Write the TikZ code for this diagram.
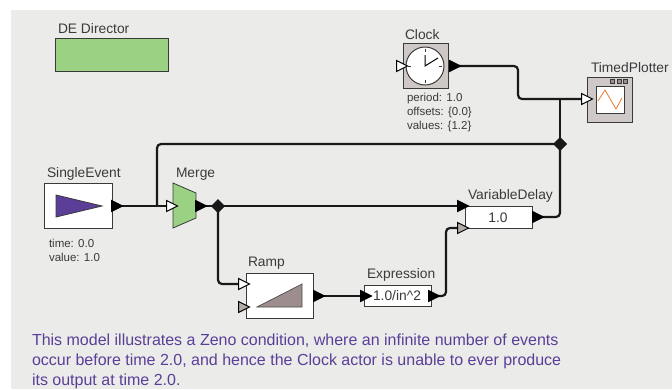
\documentclass[tikz,border=0pt]{standalone}
\usepackage{fontspec}
\setmainfont{Liberation Sans}
\usetikzlibrary{shapes.geometric,backgrounds}
\definecolor{canvas}{HTML}{EBECEA}
\definecolor{green1}{HTML}{9BD182}
\definecolor{purple1}{HTML}{5B3E98}
\definecolor{taupe}{HTML}{CEC8C6}
\definecolor{rampc}{HTML}{9D8D8D}
\definecolor{portgray}{HTML}{B5ABA9}
\definecolor{ink}{HTML}{3A3A3A}
\definecolor{orange1}{HTML}{E87A30}
\tikzset{
  x=1pt,y=-1pt,
  every node/.style={inner sep=0pt,outer sep=0pt},
  lab/.style={anchor=base west,text=ink,font=\fontsize{13.8}{16}\selectfont},
  param/.style={anchor=base west,text=ink,font=\fontsize{11.5}{13}\selectfont},
  note/.style={anchor=base west,text=purple1,font=\fontsize{16}{18}\selectfont},
  actor/.style={draw=ink,line width=0.9pt,fill=white,minimum width=#1},
  port/.style={isosceles triangle,isosceles triangle stretches=true,minimum height=11pt,minimum width=11pt,draw=black,line width=1pt,fill=#1},
  wire/.style={draw=black!90,line width=2.2pt,rounded corners=4pt},
  junction/.style={diamond,fill=black!90,minimum width=14pt,minimum height=14pt},
}
\begin{document}
\begin{tikzpicture}
\useasboundingbox (0,0) rectangle (672,389);
% actors
\node[actor=112.5pt,minimum height=33.5pt,fill=green1,anchor=north west] (director) at (55.5,38) {};
\node[lab] (directorlab) at (58,33) {DE Director};

\node[actor=45pt,minimum height=45pt,fill=taupe,anchor=north west] (clock) at (403,43) {};
\node[lab] (clocklab) at (405,39) {Clock};
\node[circle,draw=ink,line width=1pt,fill=white,minimum size=38pt] (face) at (425,66) {};
\draw[ink,line width=0.9pt] (face.north) ++(0,2) -- ++(0,3) (face.south) ++(0,-2) -- ++(0,-3) (face.west) ++(2,0) -- ++(3,0) (face.east) ++(-2,0) -- ++(-3,0);
\draw[black,line width=1pt] (425,55) -- (face.center) -- (438,58);
\node[param] (p1) at (407,101) {period: 1.0};
\node[param] (p2) at (407,115) {offsets: \{0.0\}};
\node[param] (p3) at (407,129) {values: \{1.2\}};

\node[actor=45pt,minimum height=45pt,fill=taupe,anchor=north west] (plotter) at (587,77) {};
\node[lab] (plotterlab) at (591,72) {TimedPlotter};
\node[draw=ink,line width=1pt,fill=white,minimum width=28pt,minimum height=27pt,anchor=north west] (win) at (596,86) {};
\draw[orange1,line width=0.8pt] (598,101) -- (605,90) -- (616,109) -- (622,98);
\foreach \i/\xx in {a/612,b/619,c/625}
  \node[draw=ink,line width=0.7pt,fill=rampc,minimum size=4pt] (btn\i) at (\xx,81.5) {};

\node[actor=68pt,minimum height=45pt,anchor=north west] (single) at (44,183) {};
\node[lab] (singlelab) at (47,177) {SingleEvent};
\filldraw[draw=ink,line width=0.8pt,fill=purple1] (56,195) -- (102,206) -- (56,217) -- cycle;
\node[param] (t1) at (49,247) {time: 0.0};
\node[param] (t2) at (49,261) {value: 1.0};

\filldraw[draw=ink,line width=0.8pt,fill=green1] (173,183) -- (196,193) -- (196,218) -- (173,228) -- cycle;
\node[lab] (mergelab) at (176,177) {Merge};

\node[actor=67pt,minimum height=22pt,anchor=north west] (delay) at (465,206) {};
\node[lab] (delaylab) at (468,199) {VariableDelay};
\node[text=ink,font=\fontsize{13.8}{16}\selectfont] (delayval) at (498,217.5) {1.0};

\node[actor=67pt,minimum height=45pt,anchor=north west] (ramp) at (246,273) {};
\node[lab] (ramplab) at (248,266) {Ramp};
\filldraw[draw=black!70,line width=0.7pt,fill=rampc] (257,307) -- (302,284) -- (302,307) -- cycle;

\node[actor=67pt,minimum height=21pt,anchor=north west] (expr) at (364,285) {};
\node[lab] (exprlab) at (367,278) {Expression};
\node[text=ink,font=\fontsize{13.8}{16}\selectfont] (exprval) at (397,296) {1.0/in\^{}2};

% ports
\node[port=white] (clockin) at (400,66) {};
\node[port=black] (clockout) at (453,66) {};
\node[port=white] (plotin) at (585,99) {};
\node[port=black] (singleout) at (115,206) {};
\node[port=white] (mergein) at (170,206) {};
\node[port=black] (mergeout) at (199,206) {};
\node[port=black] (delayin) at (461,206) {};
\node[port=portgray] (delayin2) at (461,228) {};
\node[port=black] (delayout) at (536,217) {};
\node[port=white] (rampin) at (242,284) {};
\node[port=portgray] (rampin2) at (242,307) {};
\node[port=black] (rampout) at (317,296) {};
\node[port=black] (exprin) at (364,296) {};
\node[port=black] (exprout) at (432,296) {};
\node[junction] (j1) at (560,144) {};
\node[junction] (j2) at (218,206) {};

\begin{scope}[on background layer]
\fill[canvas] (11,10) rectangle (672,389);
\draw[wire] (clockout.center) -- (518,66) -- (518,99) -- (plotin.center);
\draw[wire] (singleout.center) -- (mergein.center);
\draw[wire] (mergeout.center) -- (j2.center);
\draw[wire] (j2.center) -- (delayin.center);
\draw[wire] (j2.center) -- (218,284) -- (rampin.center);
\draw[wire] (rampout.center) -- (exprin.center);
\draw[wire] (exprout.center) -- (446,296) -- (446,228) -- (delayin2.center);
\draw[wire] (delayout.center) -- (560,217) -- (j1.center);
\draw[wire,rounded corners=0pt] (j1.center) -- (560,99);
\draw[wire] (j1.center) -- (157,144) -- (157,206);
\end{scope}

\node[note] (n1) at (32,345) {This model illustrates a Zeno condition, where an infinite number of events};
\node[note] (n2) at (32,365) {occur before time 2.0, and hence the Clock actor is unable to ever produce};
\node[note] (n3) at (32,385) {its output at time 2.0.};
\end{tikzpicture}
\end{document}
